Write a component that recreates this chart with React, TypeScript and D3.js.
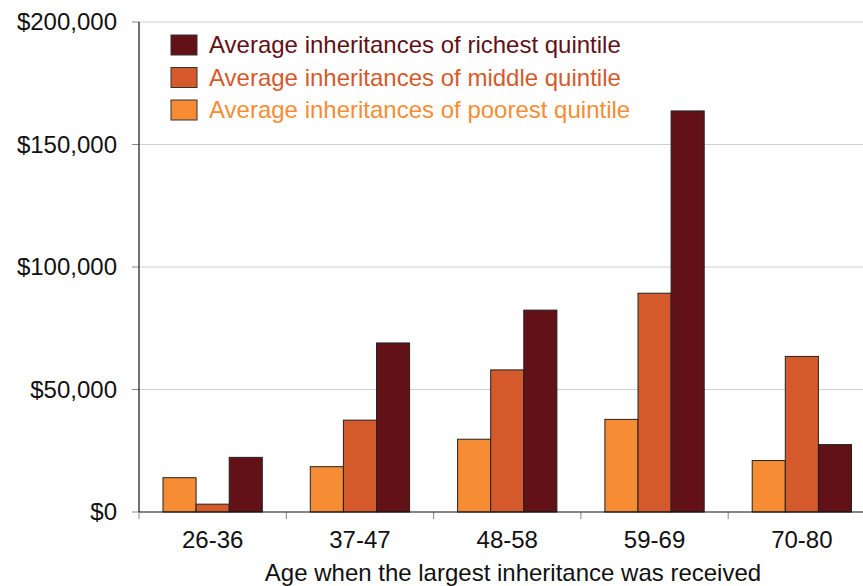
import React from 'react';
import * as d3 from 'd3';

const categories = ['26-36', '37-47', '48-58', '59-69', '70-80'];
const seriesNames = [
  'Average inheritances of poorest quintile',
  'Average inheritances of middle quintile',
  'Average inheritances of richest quintile',
];
const poorest = [14000, 18500, 29700, 37800, 21000];
const middle = [3200, 37500, 58000, 89300, 63500];
const richest = [22300, 69000, 82400, 163700, 27500];
const yTicks = [0, 50000, 100000, 150000, 200000];
const colors = ['#F68D35', '#D55A2B', '#621116'];

const W = 863;
const H = 586;
const left = 139;
const top = 22;
const bottom = 512;
const bandW = 147.3;

const App = () => {
  const series = [poorest, middle, richest];
  const x = d3
    .scaleBand<string>()
    .domain(categories)
    .range([left, left + bandW * categories.length])
    .paddingInner(0)
    .paddingOuter(0);
  const inner = d3
    .scaleBand<number>()
    .domain([0, 1, 2])
    .range([24, bandW - 24]);
  const y = d3.scaleLinear().domain([0, 200000]).range([bottom, top]);
  const fmt = (v: number) => '$' + d3.format(',')(v);

  // legend order: richest first
  const legendOrder = [2, 1, 0];

  return (
    <svg
      width={W}
      height={H}
      style={{ position: 'absolute', left: 0, top: 0, fontFamily: 'Liberation Sans, Arial, sans-serif' }}>
      <rect width={W} height={H} fill="#fff" />
      {yTicks.map(t => (
        <g key={t}>
          {t > 0 && (
            <line x1={left} x2={W} y1={y(t)} y2={y(t)} stroke="#d0d0d0" strokeWidth={1} />
          )}
          <line x1={left - 7} x2={left} y1={y(t)} y2={y(t)} stroke="#888" strokeWidth={1} />
          <text x={117} y={y(t)} dy="0.35em" textAnchor="end" fontSize={24} fill="#111">
            {fmt(t)}
          </text>
        </g>
      ))}
      {categories.map((c, i) => (
        <g key={c}>
          {series.map((s, j) => (
            <rect
              key={j}
              x={(x(c) as number) + (inner(j) as number)}
              y={y(s[i])}
              width={inner.bandwidth()}
              height={bottom - y(s[i])}
              fill={colors[j]}
              stroke="#222"
              strokeWidth={1}
            />
          ))}
          <text
            x={(x(c) as number) + bandW / 2}
            y={548}
            textAnchor="middle"
            fontSize={24}
            fill="#111">
            {c}
          </text>
        </g>
      ))}
      {d3.range(categories.length + 1).map(i => (
        <line
          key={i}
          x1={left + i * bandW}
          x2={left + i * bandW}
          y1={bottom}
          y2={bottom + 7}
          stroke="#888"
          strokeWidth={1}
        />
      ))}
      <line x1={left} x2={left} y1={top} y2={bottom} stroke="#111" strokeWidth={1.2} />
      <line x1={left} x2={W} y1={bottom} y2={bottom} stroke="#111" strokeWidth={1.2} />
      <text x={513} y={581} textAnchor="middle" fontSize={24} fill="#111">
        Age when the largest inheritance was received
      </text>
      {legendOrder.map((j, k) => (
        <g key={j} transform={`translate(171, ${35 + k * 32.5})`}>
          <rect width={26} height={20} fill={colors[j]} stroke="#333" strokeWidth={1} />
          <text x={38} y={10} dy="0.35em" fontSize={24} fill={colors[j]}>
            {seriesNames[j]}
          </text>
        </g>
      ))}
    </svg>
  );
};

export default App;
